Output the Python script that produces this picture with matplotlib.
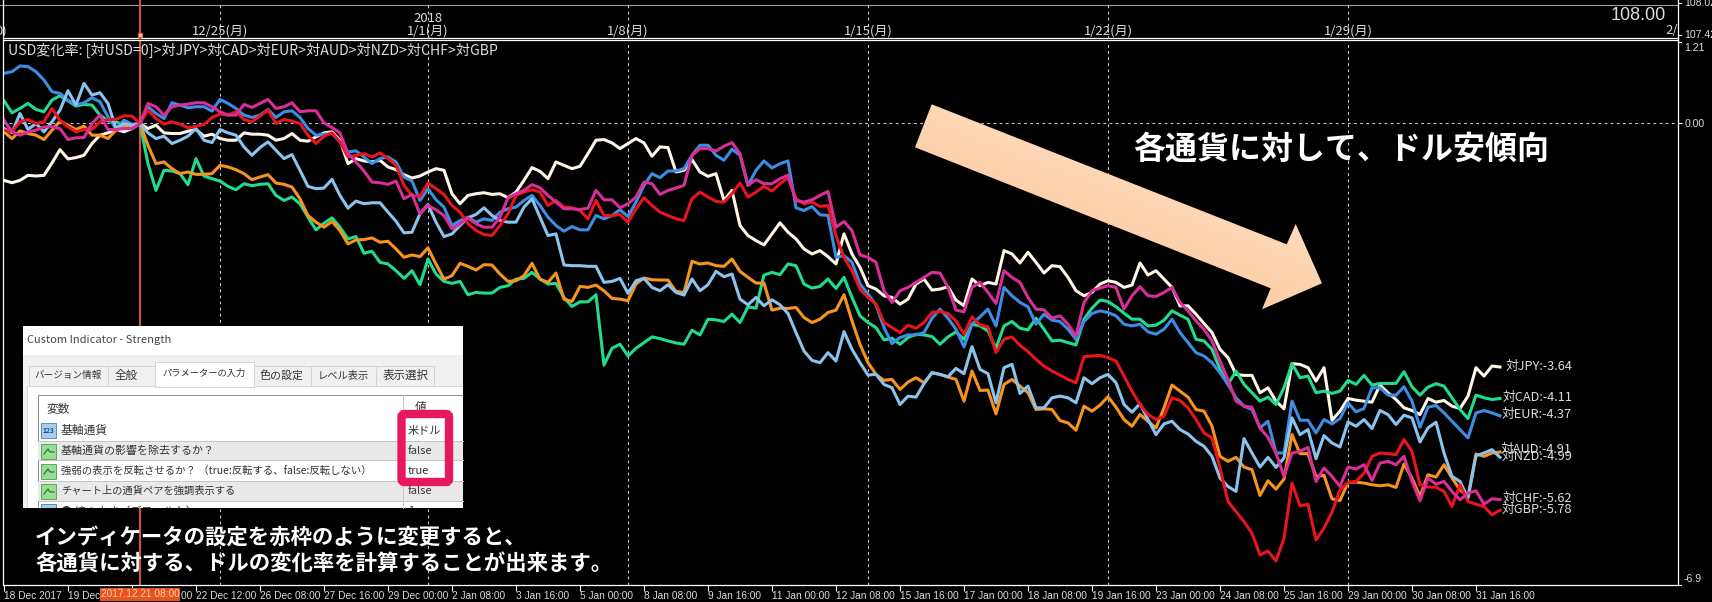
import matplotlib
matplotlib.use("Agg")
import matplotlib.pyplot as plt
import numpy as np
from matplotlib.patches import Rectangle, Polygon, FancyBboxPatch
from matplotlib.transforms import blended_transform_factory

CJK = ['Noto Sans CJK JP', 'DejaVu Sans']
plt.rcParams['font.family'] = CJK

# USD change rate against each currency, one value per 4h bar
jpy = [-0.85,-0.885,-0.85,-0.775,-0.785,-0.775,-0.59,-0.39,-0.53,-0.51,-0.475,-0.30,-0.175,-0.14,-0.085,-0.125,-0.075,0,-0.075,-0.025,-0.14,-0.15,-0.15,-0.115,-0.09,-0.19,-0.16,-0.225,-0.25,-0.25,-0.14,-0.16,-0.16,-0.175,-0.25,-0.225,-0.15,-0.25,
       -0.265,-0.20,-0.14,-0.125,-0.25,-0.60,-0.525,-0.56,-0.575,-0.55,-0.65,-0.69,-0.765,-0.815,-0.785,-0.725,-0.675,-0.70,-1.05,-1.20,-1.075,-1.05,-1.035,-1.06,-1.05,-1.11,-1.025,-0.85,-0.66,-0.715,-0.825,-0.575,-0.625,-0.675,-0.64,-0.45,-0.25,
       -0.24,-0.29,-0.375,-0.30,-0.225,-0.29,-0.49,-0.35,-0.36,-0.725,-0.70,-0.54,-0.725,-0.79,-0.75,-1.15,-1.0,-1.525,-1.675,-1.75,-1.815,-1.65,-1.485,-1.625,-1.725,-1.875,-1.95,-1.90,-1.99,-2.10,-1.65,-1.95,-2.15,-2.425,-2.475,-2.575,-2.60,-2.70,
       -2.625,-2.40,-2.325,-2.49,-2.475,-2.44,-2.64,-2.725,-2.325,-2.425,-2.375,-2.40,-1.90,-1.95,-2.085,-1.925,-2.075,-2.235,-2.125,-2.14,-2.30,-2.50,-2.575,-2.525,-2.40,-2.35,-2.375,-2.45,-2.415,-2.085,-2.265,-2.20,-2.325,-2.45,-2.725,-2.725,-2.85,
       -2.99,-3.125,-3.375,-3.50,-3.75,-3.765,-3.765,-4.025,-3.95,-4.15,-4.265,-3.59,-3.6,-3.65,-3.85,-3.65,-4.435,-4.30,-4.11,-4.135,-4.15,-4.165,-3.91,-4.025,-4.125,-4.25,-4.29,-4.35,-4.11,-4.165,-4.14,-4.225,-4.26,-4.075,-3.65,-3.775,-3.625,-3.64]
cad = [0.34,0.16,0.225,0.30,0.21,0.175,0.35,0.415,0.34,0.26,0.285,0.275,0.125,0.04,0.025,-0.025,-0.035,0,-0.60,-1.0,-0.70,-0.71,-0.75,-0.915,-0.525,-0.785,-0.825,-0.86,-0.94,-0.99,-0.90,-0.93,-0.91,-0.90,-1.075,-1.15,-1.10,-1.2,
       -1.40,-1.59,-1.49,-1.41,-1.55,-1.725,-1.69,-1.94,-1.91,-2.075,-2.10,-2.20,-2.315,-2.20,-2.41,-2.025,-2.25,-2.36,-2.39,-2.36,-2.56,-2.525,-2.535,-2.535,-2.45,-2.425,-2.325,-2.315,-2.225,-2.325,-2.40,-2.39,-2.60,-2.735,-2.665,-2.665,-2.56,
       -3.61,-3.36,-3.30,-3.475,-3.36,-3.275,-3.19,-3.215,-3.25,-3.28,-3.30,-3.09,-3.16,-2.925,-2.935,-2.96,-2.85,-2.975,-2.74,-2.76,-2.265,-2.225,-2.26,-2.10,-2.125,-2.40,-2.46,-2.435,-2.325,-2.465,-2.30,-2.60,-2.875,-2.975,-3.05,-3.235,-3.21,-3.30,
       -3.20,-3.15,-3.16,-3.185,-3.30,-3.19,-3.115,-3.225,-3.00,-3.025,-3.10,-3.36,-3.025,-2.96,-3.06,-3.085,-2.91,-3.075,-3.25,-3.24,-3.275,-3.31,-2.925,-2.76,-2.64,-2.66,-2.74,-2.835,-2.925,-2.925,-3.025,-3.015,-2.94,-2.80,-2.865,-2.925,-3.225,
       -3.25,-3.375,-3.675,-3.90,-3.70,-3.90,-4.025,-4.15,-4.09,-4.20,-3.95,-3.59,-3.80,-3.775,-4.025,-4.0,-4.035,-4.0,-3.84,-3.90,-3.765,-3.91,-3.885,-3.885,-3.885,-3.71,-3.935,-4.06,-3.94,-3.89,-3.925,-4.10,-4.275,-4.41,-4.06,-4.10,-4.125,-4.11]
eur = [0.75,0.775,0.86,0.85,0.775,0.65,0.475,0.45,0.35,0.275,0.31,0.385,0.325,0.10,-0.075,0.05,-0.01,0,0.25,0.15,0.075,0.31,0.275,0.235,0.25,0.25,0.185,0.36,0.30,0.225,0.125,0.09,0.125,0.21,0.09,0.175,0.19,0.09,
       -0.075,-0.175,-0.16,-0.15,-0.275,-0.425,-0.41,-0.50,-0.60,-0.525,-0.50,-0.575,-0.80,-0.86,-1.15,-0.975,-1.14,-1.25,-1.525,-1.45,-1.40,-1.475,-1.425,-1.45,-1.325,-1.275,-1.25,-1.15,-1.075,-1.225,-1.40,-1.525,-1.61,-1.54,-1.59,-1.59,-1.375,
       -1.425,-1.375,-1.29,-1.39,-1.175,-0.925,-0.75,-0.81,-0.71,-0.71,-0.675,-0.475,-0.325,-0.325,-0.475,-0.55,-0.385,-0.475,-0.925,-0.70,-0.56,-0.665,-0.60,-0.56,-1.26,-1.30,-1.24,-1.365,-1.375,-2.0,-1.975,-2.075,-2.40,-2.55,-2.71,-3.05,-3.29,-3.20,
       -3.16,-3.16,-3.125,-2.91,-2.775,-2.91,-3.075,-3.34,-3.0,-2.89,-2.775,-3.025,-2.45,-2.575,-2.675,-2.74,-3.0,-2.85,-2.94,-2.96,-3.075,-3.225,-2.96,-2.84,-2.80,-2.825,-2.875,-3.0,-3.025,-3.0,-3.115,-3.15,-3.075,-2.925,-3.125,-3.275,-3.425,
       -3.475,-3.575,-3.725,-3.90,-4.10,-4.225,-4.275,-4.55,-4.45,-4.925,-4.925,-4.15,-4.435,-4.435,-4.625,-4.425,-4.49,-4.41,-4.175,-4.31,-4.26,-3.95,-3.95,-4.06,-4.06,-3.935,-4.15,-4.54,-4.24,-4.215,-4.325,-4.45,-4.575,-4.70,-4.325,-4.29,-4.325,-4.37]
aud = [-0.125,-0.225,-0.11,-0.15,-0.175,-0.24,-0.10,0.035,-0.025,-0.09,-0.04,-0.175,-0.175,-0.225,-0.10,-0.05,-0.04,0,-0.325,-0.60,-0.575,-0.675,-0.75,-0.725,-0.76,-0.76,-0.75,-0.625,-0.65,-0.69,-0.75,-0.84,-0.80,-0.765,-0.89,-0.91,-0.95,-1.125,
       -1.375,-1.475,-1.55,-1.465,-1.60,-1.80,-1.74,-1.735,-1.71,-1.775,-1.76,-1.875,-2.0,-1.965,-1.99,-1.86,-2.10,-2.325,-2.275,-2.09,-2.135,-2.19,-2.11,-2.115,-2.25,-2.36,-2.35,-2.275,-2.09,-2.325,-2.375,-2.235,-2.625,-2.66,-2.435,-2.45,-2.415,
       -2.50,-2.615,-2.625,-2.65,-2.40,-2.31,-2.335,-2.34,-2.34,-2.51,-2.525,-2.06,-2.10,-2.085,-2.125,-2.135,-2.025,-2.21,-2.30,-2.385,-2.385,-2.79,-2.76,-2.765,-2.75,-2.90,-2.975,-2.925,-2.825,-2.79,-2.56,-2.95,-3.30,-3.575,-3.75,-3.84,-3.825,-3.975,
       -3.865,-3.80,-3.875,-3.725,-3.75,-3.79,-3.825,-4.15,-3.70,-3.99,-3.985,-4.34,-3.90,-3.825,-3.925,-4.025,-4.275,-4.265,-4.275,-4.44,-4.475,-4.585,-4.225,-4.30,-4.21,-4.085,-4.24,-4.425,-4.525,-4.35,-4.45,-4.55,-4.25,-3.91,-4.0,-4.09,-4.275,
       -4.30,-4.525,-4.975,-5.05,-4.99,-5.135,-5.175,-5.56,-5.34,-5.465,-5.315,-4.65,-4.935,-4.935,-5.275,-5.26,-5.61,-5.635,-5.365,-5.36,-5.375,-5.40,-5.415,-5.40,-5.44,-5.09,-5.30,-5.575,-5.25,-5.285,-5.10,-5.30,-5.475,-5.575,-4.94,-4.975,-4.925,-4.91]
nzd = [-0.075,-0.14,0.15,-0.09,0,-0.125,0.025,0.20,0.49,0.275,0.60,0.425,0.46,0.30,-0.075,0,-0.025,0,-0.14,-0.225,-0.19,-0.30,-0.25,-0.19,-0.075,-0.25,-0.285,-0.09,-0.14,-0.175,-0.35,-0.475,-0.36,-0.275,-0.40,-0.525,-0.465,-0.70,
       -0.94,-0.975,-0.965,-0.835,-1.075,-1.265,-1.16,-1.20,-1.185,-1.185,-1.325,-1.46,-1.635,-1.625,-1.35,-1.21,-1.475,-1.69,-1.65,-1.525,-1.41,-1.36,-1.26,-1.375,-1.45,-1.475,-1.475,-1.25,-1.125,-1.40,-1.675,-1.65,-2.115,-2.125,-2.125,-2.135,-2.135,
       -2.375,-2.36,-2.315,-2.54,-2.35,-2.315,-2.45,-2.50,-2.41,-2.525,-2.565,-2.325,-2.50,-2.41,-2.21,-2.29,-2.25,-2.625,-2.71,-2.60,-2.725,-2.635,-2.71,-2.84,-3.125,-3.40,-3.54,-3.575,-3.425,-3.55,-3.11,-3.375,-3.575,-3.76,-3.75,-3.90,-3.95,-4.20,
       -4.075,-4.09,-3.89,-3.725,-3.75,-3.785,-3.66,-3.74,-3.335,-3.675,-3.74,-4.175,-3.65,-3.60,-4.035,-3.925,-4.25,-4.25,-4.10,-4.075,-4.10,-4.175,-3.80,-3.89,-3.80,-3.75,-3.875,-4.20,-4.315,-4.19,-4.425,-4.65,-4.49,-4.45,-4.575,-4.64,-4.75,
       -4.825,-4.975,-5.30,-5.425,-5.50,-4.71,-4.925,-5.135,-4.99,-5.14,-5.0,-4.40,-4.65,-4.575,-5.01,-4.665,-4.775,-4.835,-4.46,-4.525,-4.425,-4.56,-4.29,-4.35,-4.50,-4.36,-4.40,-4.76,-4.55,-4.465,-4.925,-5.275,-5.35,-5.60,-4.965,-4.925,-4.875,-4.99]
chf = [0.05,-0.125,-0.175,-0.125,-0.10,-0.05,-0.05,-0.075,-0.24,-0.215,-0.21,0,0.125,-0.09,-0.09,-0.075,-0.075,0,0.30,0.25,0.125,0.25,0.275,0.29,0.31,0.31,0.25,0.175,0.125,0.125,0.285,0.24,0.30,0.36,0.225,0.25,0.31,0.175,
       0.19,0.19,0.01,-0.06,-0.14,-0.45,-0.575,-0.71,-0.875,-0.885,-0.91,-0.86,-1.125,-1.06,-1.35,-1.225,-1.29,-1.375,-1.575,-1.50,-1.41,-1.50,-1.55,-1.55,-1.40,-1.11,-1.05,-1.0,-0.915,-0.96,-1.075,-1.175,-1.275,-1.275,-1.285,-1.265,-1.0,
       -1.14,-1.14,-1.26,-1.20,-1.10,-0.875,-0.90,-1.06,-1.0,-0.965,-0.925,-0.475,-0.375,-0.375,-0.41,-0.34,-0.285,-0.45,-0.925,-0.84,-0.90,-0.90,-0.825,-0.775,-1.15,-1.175,-1.14,-1.075,-1.015,-1.55,-1.465,-1.60,-1.965,-2.0,-2.075,-2.50,-2.675,-2.50,
       -2.45,-2.375,-2.30,-2.225,-2.235,-2.45,-2.79,-2.815,-2.45,-2.375,-2.525,-2.69,-2.20,-2.30,-2.375,-2.60,-2.775,-2.785,-2.91,-2.875,-3.0,-3.175,-2.675,-2.50,-2.46,-2.425,-2.45,-2.775,-2.575,-2.44,-2.575,-2.585,-2.525,-2.45,-2.675,-2.80,-2.95,
       -3.075,-3.25,-3.55,-3.825,-4.15,-4.225,-4.24,-4.55,-4.69,-4.925,-5.275,-4.925,-4.90,-4.84,-5.35,-5.15,-5.275,-5.425,-5.135,-5.165,-5.10,-5.335,-5.075,-5.05,-5.10,-4.975,-5.35,-5.64,-5.30,-5.39,-5.35,-5.50,-5.625,-5.525,-5.49,-5.69,-5.61,-5.62]
gbp = [-0.10,-0.125,0.025,0.06,0,0.025,0.225,0.05,-0.05,-0.125,-0.09,-0.09,0.025,0.06,0.06,0.115,0.11,0,0.20,0.075,-0.01,0.025,-0.01,-0.065,-0.04,-0.015,0.09,0.14,0.125,0.175,0.06,0.025,0.11,0.20,0,0.06,0.035,0,
       -0.175,-0.30,-0.19,-0.14,-0.275,-0.50,-0.475,-0.45,-0.50,-0.44,-0.525,-0.625,-0.925,-1.075,-1.09,-0.89,-0.975,-1.06,-1.225,-1.325,-1.50,-1.60,-1.66,-1.675,-1.525,-1.35,-1.075,-1.025,-0.99,-1.025,-1.225,-1.15,-1.25,-1.26,-1.30,-1.425,-1.15,
       -1.375,-1.375,-1.36,-1.475,-1.275,-1.11,-1.225,-1.325,-1.375,-1.425,-1.45,-1.125,-1.025,-1.10,-1.165,-1.175,-1.05,-0.89,-1.10,-1.025,-0.94,-1.01,-0.90,-0.81,-1.125,-1.20,-1.175,-1.24,-1.225,-1.675,-2.0,-2.20,-2.475,-2.60,-2.70,-2.975,-3.05,-3.125,
       -3.015,-3.06,-2.975,-2.825,-2.81,-2.84,-2.95,-3.15,-2.89,-3.01,-3.04,-3.425,-3.225,-3.19,-3.315,-3.41,-3.525,-3.625,-3.70,-3.76,-3.825,-3.875,-3.485,-3.475,-3.465,-3.50,-3.55,-3.775,-4.0,-4.20,-4.35,-4.425,-4.375,-4.10,-4.14,-4.25,-4.425,
       -4.625,-4.70,-5.15,-5.65,-5.80,-5.95,-6.125,-6.45,-6.39,-6.54,-6.20,-5.375,-5.715,-5.69,-6.225,-6.05,-5.81,-5.475,-5.365,-5.35,-5.225,-4.975,-4.925,-4.935,-4.95,-4.725,-4.90,-5.40,-5.435,-5.435,-5.50,-5.725,-5.40,-5.65,-5.69,-5.725,-5.85,-5.78]

series = [
    (jpy, '#FFF6E6', '対JPY:-3.64', 366),
    (cad, '#22DC8E', '対CAD:-4.11', 397),
    (eur, '#3E8DE4', '対EUR:-4.37', 414),
    (aud, '#F7941E', '対AUD:-4.91', 449),
    (nzd, '#8AC4EE', '対NZD:-4.99', 456),
    (gbp, '#E8141E', '対GBP:-5.78', 509),
    (chf, '#D92E98', '対CHF:-5.62', 498),
]

tick_bars = list(range(0, 188, 8))
tick_labels = ['18 Dec 2017', '19 Dec 08:00', '20 Dec 16:00', '22 Dec 12:00', '26 Dec 08:00',
               '27 Dec 16:00', '29 Dec 00:00', '2 Jan 08:00', '3 Jan 16:00', '5 Jan 00:00',
               '8 Jan 08:00', '9 Jan 16:00', '11 Jan 00:00', '12 Jan 08:00', '15 Jan 16:00',
               '17 Jan 00:00', '18 Jan 08:00', '19 Jan 16:00', '23 Jan 00:00', '24 Jan 08:00',
               '25 Jan 16:00', '29 Jan 00:00', '30 Jan 08:00', '31 Jan 16:00']
week_bars = [27, 53, 78, 108, 138, 168]
week_labels = ['12/25(月)', '1/1(月)', '1/8(月)', '1/15(月)', '1/22(月)', '1/29(月)']
cursor_bar = 17

GRID = '#C8C8C8'
TXT = '#DCDCDC'
LATIN = ['Liberation Sans']

fig = plt.figure(figsize=(17.12, 6.02), dpi=100, facecolor='black')
ax = fig.add_axes([3.5/1712, 17/602, 1674.5/1712, 544/602], facecolor='black')
ax.set_xlim(-0.06, 209.25)
ax.set_ylim(-6.898, 1.233)
for s in ax.spines.values():
    s.set_visible(False)

for b in week_bars:
    ax.axvline(b, color=GRID, lw=0.8, ls=(0, (2.5, 3)), zorder=1)
ax.axhline(0, color=GRID, lw=0.8, ls=(0, (2.5, 3)), zorder=1)
ax.axvline(cursor_bar, color='#C4573A', lw=1.6, zorder=1)

for vals, col, lab, ly in series:
    assert len(vals) == 188, lab
    ax.plot(range(188), vals, color=col, lw=2.2, solid_joinstyle='round', zorder=3)

ax.set_xticks(tick_bars)
ax.set_xticklabels(tick_labels, ha='left', fontsize=7.3, color=TXT, family=LATIN)
ax.tick_params(axis='x', colors='white', length=4, width=0.8, pad=0, labelcolor=TXT)
ax.yaxis.tick_right()
ax.set_yticks([0])
ax.set_yticklabels(['0.00'], fontsize=7.6, color=TXT, family=LATIN)
ax.tick_params(axis='y', colors='white', length=3, width=0.8, pad=2, labelcolor=TXT)

# everything else sits on an overlay in image pixels
ov = fig.add_axes([0, 0, 1, 1], zorder=5)
ov.set_xlim(0, 1712)
ov.set_ylim(602, 0)
ov.axis('off')
bars_px = blended_transform_factory(ax.transData, ov.transData)

# frame and top strip
ov.plot([0, 1678], [4.7, 4.7], color='#A0A0A0', lw=0.8)
ov.plot([3.5, 1678], [38, 38], color='white', lw=0.9)
ov.plot([3.5, 1678], [40.3, 40.3], color='white', lw=0.9)
ov.plot([3.5, 1678], [585, 585], color='white', lw=0.9)
ov.plot([3.5, 3.5], [0, 585], color='white', lw=0.9)
ov.plot([1678, 1678], [0, 585], color='white', lw=0.9)
for yy in [3, 35, 42, 585]:
    ov.plot([1678, 1681], [yy, yy], color='white', lw=0.8)
for b in week_bars:
    ov.plot([b, b], [5, 38], color=GRID, lw=0.8, ls=(0, (2.5, 3)), transform=bars_px)
ov.plot([cursor_bar, cursor_bar], [0, 38], color='#C4573A', lw=1.6, transform=bars_px)
ov.plot([cursor_bar], [35], marker='s', ms=3.4, mfc='#F0E0D0', mec='#E0602A', mew=1, transform=bars_px)

for b, lab in zip(week_bars, week_labels):
    ov.text(b, 31, lab, ha='center', va='center', fontsize=9.4, color=TXT, transform=bars_px, zorder=2)
ov.text(53, 18, '2018', ha='center', va='center', fontsize=9.4, color=TXT, transform=bars_px, zorder=2)
ov.text(7, 31, '0)', ha='right', va='center', fontsize=9.4, color=TXT)
end_label = ov.text(1665, 31, '2/5', ha='left', va='center', fontsize=9.4, color=TXT, clip_on=True)
end_label.set_clip_path(ov.add_patch(Rectangle((1600, 10), 78, 28, fc='none', ec='none')))
ov.text(1666, 15, '108.00', ha='right', va='center', fontsize=13, color=TXT, family=LATIN)
for yy, s in [(3, '108.02'), (35, '107.42'), (47.7, '1.21'), (578.7, '-6.9')]:
    ov.text(1684, yy, s, ha='left', va='center', fontsize=7.6, color=TXT, family=LATIN)

ov.text(8, 50.7, 'USD変化率: [対USD=0]>対JPY>対CAD>対EUR>対AUD>対NZD>対CHF>対GBP',
        ha='left', va='center', fontsize=10.2, color=TXT)

for vals, col, lab, ly in series:
    ov.text(1572, ly, lab, ha='right', va='center', fontsize=9.2, color=TXT)

# big arrow
arrow = [(931.7, 104.3), (1286.7, 244.3), (1295.7, 224), (1322, 283.3),
         (1262, 309.3), (1270.7, 288.3), (915, 147.3)]
shape = Polygon(arrow, closed=True, fc='none', ec='none')
ov.add_patch(shape)
yy, xx = np.mgrid[0:1:200j, 0:1:200j]
im = ov.imshow(np.clip(1 - (yy - xx*0.75 + 0.25), 0, 1), extent=(915, 1322, 310, 104), aspect='auto',
               cmap=matplotlib.colors.LinearSegmentedColormap.from_list('peach', ['#FBC496', '#FFDDBF']),
               zorder=3)
im.set_clip_path(shape)
ov.set_xlim(0, 1712)
ov.set_ylim(602, 0)

ov.text(1133, 150, '各通貨に対して、ドル安傾向', ha='left', va='center', fontsize=23,
        color='white', fontweight='bold')

ov.text(35, 537.5, 'インディケータの設定を赤枠のように変更すると、', ha='left', va='center',
        fontsize=15.4, color='white', fontweight='bold', zorder=8)
ov.text(35, 563, '各通貨に対する、ドルの変化率を計算することが出来ます。', ha='left', va='center',
        fontsize=15.4, color='white', fontweight='bold', zorder=8)

# highlighted cursor time on the bottom axis
ov.add_patch(Rectangle((100, 588), 80, 12.5, fc='#E8521C', ec='none', zorder=6))
ov.text(140, 594, '2017.12.21 08:00', ha='center', va='center', fontsize=7.3, color='#F6D2B8',
        family=LATIN, zorder=7)

# settings dialog screenshot
dlg = Rectangle((23, 326), 440, 182, fc='white', ec='none', zorder=6)
ov.add_patch(dlg)
DTXT = '#333333'


def dtext(x, y, s, size=8.4, color=DTXT):
    t = ov.text(x, y, s, ha='left', va='center', fontsize=size, color=color, zorder=8, clip_on=True)
    t.set_clip_path(dlg)
    return t


def drect(x0, y0, x1, y1, fc, ec='none', z=7):
    r = Rectangle((x0, y0), x1-x0, y1-y0, fc=fc, ec=ec, lw=0.7, zorder=z)
    ov.add_patch(r)
    r.set_clip_path(dlg)
    return r


dtext(27, 340, 'Custom Indicator - Strength', size=8.0, color='#444444')
drect(23, 355, 463, 508, '#F0F0F0', z=6.5)
drect(27, 386, 470, 515, 'white', ec='#D8D8D8', z=6.6)
for x in [29, 108, 254.5, 311, 376, 433.6]:
    ov.plot([x, x], [366, 386], color='#D4D4D4', lw=0.7, zorder=6.7)
ov.plot([29, 433.6], [366, 366], color='#D4D4D4', lw=0.7, zorder=6.7)
drect(155, 362, 254.5, 387, 'white', ec='#D4D4D4', z=6.8)
dtext(34, 375.7, 'バージョン情報', size=6.9)
dtext(115, 375.7, '全般', size=8.3)
dtext(162, 373, 'パラメーターの入力', size=6.7)
dtext(260, 375.7, '色の設定', size=7.9)
dtext(318, 375.7, 'レベル表示', size=7.4)
dtext(383, 375.7, '表示選択', size=8.3)

drect(38, 395, 470, 515, 'white', ec='#8A8A8A', z=6.7)
drect(38.5, 440.7, 463, 460, '#E9E9E9', z=6.75)
drect(38.5, 480.7, 463, 500.7, '#E9E9E9', z=6.75)
for yy in [440.7, 460, 480.7, 500.7]:
    ov.plot([38, 463], [yy, yy], color='#C4C4C4', lw=0.7, zorder=6.8)
ov.plot([403, 403], [395, 508], color='#C4C4C4', lw=0.7, zorder=6.8)
dtext(46, 409, '変数', size=8.4)
dtext(415, 408, '値', size=8.4)

rows = [(430.7, '基軸通貨', 8.5, '米ドル', '#A8CCF0'),
        (451, '基軸通貨の影響を除去するか？', 7.9, 'false', '#98DC98'),
        (471, '強弱の表示を反転させるか？ （true:反転する、false:反転しない）', 7.5, 'true', '#98DC98'),
        (491, 'チャート上の通貨ペアを強調表示する', 7.4, 'false', '#98DC98'),
        (511, '● 線の太さ（デフォルト）', 8.0, '1', '#A8CCF0')]
for ry, name, size, val, icon in rows:
    drect(41, ry-7.5, 56.5, ry+7.5, icon, ec='#6AA06A' if icon == '#98DC98' else '#5C8CC0', z=7)
    dtext(61, ry, name, size=size)
    dtext(407.6, ry, val, size=8.0)
ov.text(48.5, 430.7, '123', ha='center', va='center', fontsize=4.8, color='#1C4C90',
        fontweight='bold', zorder=8)
for ry in [451, 471, 491]:
    ov.plot([44, 48, 50, 54], [ry+3, ry-2, ry+1, ry+1], color='#207020', lw=0.8, zorder=8)

ov.add_patch(FancyBboxPatch((401.5, 414), 47.5, 68, boxstyle='round,pad=0,rounding_size=3',
                            fc='none', ec='#E8185F', lw=6.0, zorder=8))

fig.savefig('out.png', dpi=100, facecolor='black')
